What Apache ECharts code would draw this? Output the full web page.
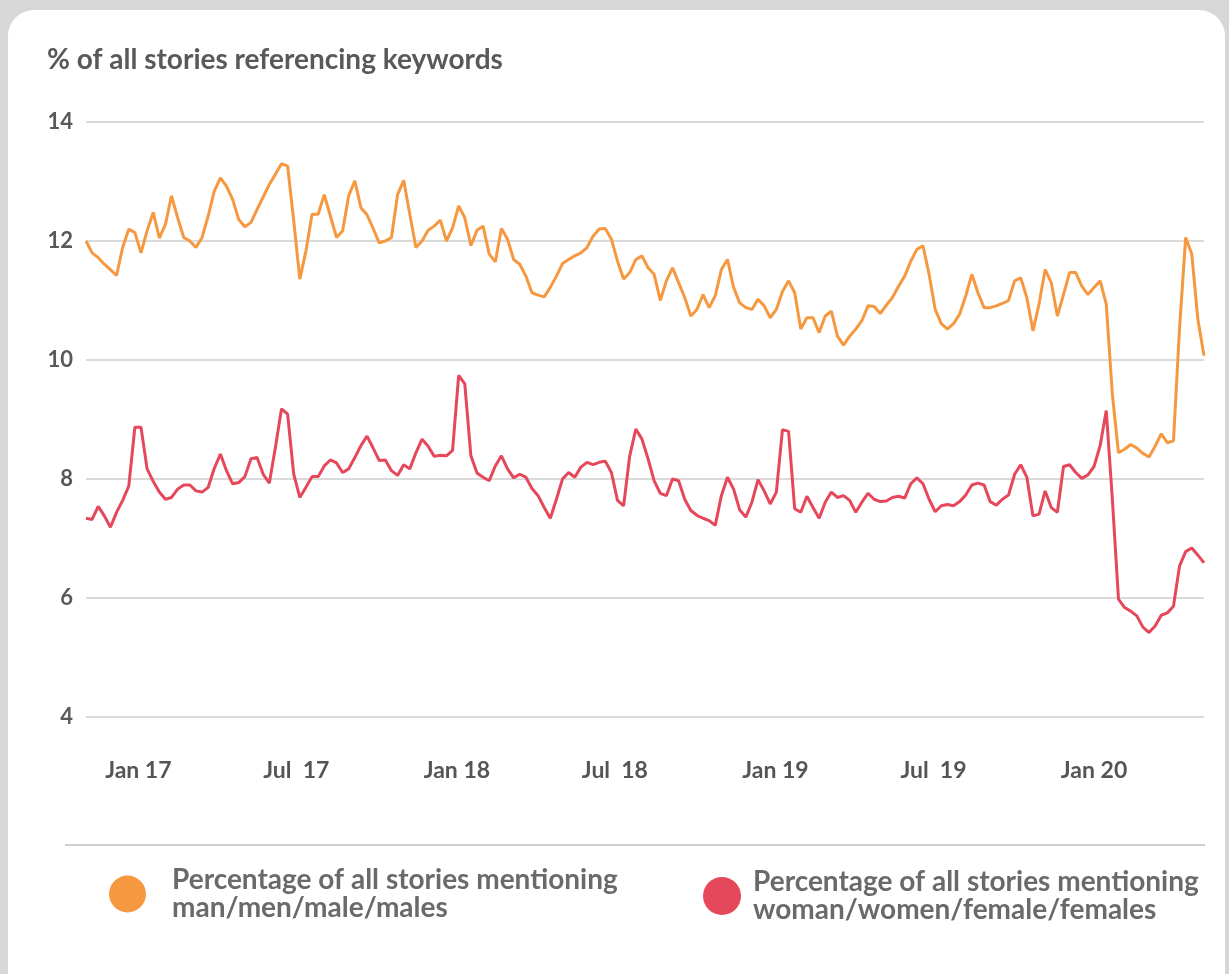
<!DOCTYPE html>
<html>
<head>
<meta charset="utf-8">
<script src="https://cdn.jsdelivr.net/npm/echarts@6/dist/echarts.min.js"></script>
<style>
  html, body { margin: 0; padding: 0; width: 1229px; height: 974px; overflow: hidden; background: #d7d7d7; }
  #card { position: absolute; left: 8px; top: 10px; width: 1217px; height: 990px; background: #ffffff; border-radius: 26px; }
  #chart { position: absolute; left: 0; top: 0; width: 1229px; height: 974px; }
</style>
</head>
<body>
<div id="card"></div>
<div id="chart"></div>
<script>
// Weekly readings, first week starting 2 Nov 2016
const seriesStart = '2016-11-02';
const stepDays = 7;

// % of all stories mentioning man/men/male/males
const menValues = [
  12.00, 11.80, 11.72, 11.61, 11.52, 11.42, 11.89, 12.20, 12.14, 11.80,
  12.17, 12.48, 12.05, 12.28, 12.76, 12.39, 12.06, 12.00, 11.89, 12.06,
  12.42, 12.84, 13.06, 12.92, 12.70, 12.36, 12.24, 12.31, 12.53, 12.74,
  12.95, 13.12, 13.30, 13.26, 12.34, 11.36, 11.83, 12.45, 12.45, 12.78,
  12.42, 12.06, 12.17, 12.76, 13.01, 12.56, 12.44, 12.21, 11.97, 12.00,
  12.06, 12.78, 13.02, 12.45, 11.89, 12.00, 12.18, 12.25, 12.35, 12.00,
  12.22, 12.59, 12.39, 11.92, 12.18, 12.25, 11.78, 11.65, 12.21, 12.03,
  11.69, 11.61, 11.41, 11.13, 11.09, 11.06, 11.22, 11.41, 11.62, 11.69,
  11.75, 11.80, 11.89, 12.08, 12.20, 12.21, 12.03, 11.66, 11.36, 11.47,
  11.69, 11.75, 11.55, 11.44, 11.00, 11.33, 11.55, 11.30, 11.05, 10.74,
  10.85, 11.10, 10.88, 11.08, 11.52, 11.69, 11.22, 10.96, 10.88, 10.85,
  11.02, 10.91, 10.71, 10.85, 11.15, 11.33, 11.13, 10.52, 10.71, 10.71,
  10.46, 10.74, 10.82, 10.40, 10.25, 10.40, 10.52, 10.66, 10.91, 10.90,
  10.78, 10.92, 11.05, 11.24, 11.41, 11.66, 11.86, 11.92, 11.44, 10.85,
  10.61, 10.52, 10.61, 10.77, 11.08, 11.44, 11.13, 10.88, 10.88, 10.91,
  10.95, 11.00, 11.33, 11.38, 11.05, 10.49, 10.94, 11.52, 11.30, 10.74,
  11.10, 11.47, 11.47, 11.24, 11.10, 11.22, 11.33, 10.94, 9.42, 8.44,
  8.50, 8.58, 8.52, 8.43, 8.37, 8.55, 8.76, 8.61, 8.64, 10.54,
  12.06, 11.78, 10.68, 10.07
];

// % of all stories mentioning woman/women/female/females
const womenValues = [
  7.34, 7.32, 7.54, 7.38, 7.19, 7.44, 7.64, 7.88, 8.87, 8.87,
  8.17, 7.96, 7.78, 7.66, 7.69, 7.83, 7.90, 7.90, 7.80, 7.78,
  7.86, 8.18, 8.42, 8.14, 7.92, 7.94, 8.04, 8.34, 8.36, 8.08,
  7.93, 8.53, 9.18, 9.09, 8.08, 7.69, 7.86, 8.04, 8.04, 8.22,
  8.32, 8.27, 8.11, 8.17, 8.36, 8.56, 8.72, 8.52, 8.31, 8.32,
  8.14, 8.06, 8.24, 8.17, 8.44, 8.67, 8.55, 8.38, 8.40, 8.39,
  8.48, 9.74, 9.60, 8.39, 8.10, 8.03, 7.97, 8.22, 8.39, 8.17,
  8.02, 8.08, 8.03, 7.84, 7.72, 7.52, 7.34, 7.66, 8.00, 8.11,
  8.03, 8.20, 8.28, 8.24, 8.28, 8.30, 8.11, 7.64, 7.55, 8.39,
  8.84, 8.67, 8.34, 7.97, 7.76, 7.72, 8.00, 7.97, 7.66, 7.47,
  7.39, 7.34, 7.30, 7.22, 7.72, 8.03, 7.83, 7.48, 7.36, 7.61,
  7.99, 7.80, 7.58, 7.78, 8.83, 8.80, 7.50, 7.44, 7.71, 7.52,
  7.34, 7.61, 7.78, 7.69, 7.72, 7.64, 7.44, 7.61, 7.76, 7.66,
  7.62, 7.63, 7.69, 7.71, 7.68, 7.92, 8.02, 7.92, 7.66, 7.45,
  7.55, 7.57, 7.55, 7.62, 7.73, 7.90, 7.93, 7.90, 7.62, 7.56,
  7.66, 7.73, 8.08, 8.24, 8.03, 7.38, 7.41, 7.80, 7.52, 7.44,
  8.21, 8.24, 8.11, 8.01, 8.07, 8.21, 8.56, 9.15, 7.66, 5.98,
  5.84, 5.78, 5.70, 5.51, 5.42, 5.53, 5.71, 5.75, 5.86, 6.54,
  6.78, 6.84, 6.72, 6.59
];

const tickDates = ['2017-01-01', '2017-07-01', '2018-01-01', '2018-07-01', '2019-01-01', '2019-07-01', '2020-01-01'];
const tickLabels = ['Jan 17', 'Jul  17', 'Jan 18', 'Jul  18', 'Jan 19', 'Jul  19', 'Jan 20'];

const titleText = '% of all stories referencing keywords';
const menName = 'Percentage of all stories mentioning\nman/men/male/males';
const womenName = 'Percentage of all stories mentioning\nwoman/women/female/females';

const DAY = 86400000;
const t0 = Date.parse(seriesStart + 'T00:00:00Z');
const toPairs = vals => vals.map((v, i) => [t0 + i * stepDays * DAY, v]);
const tickTimes = tickDates.map(d => Date.parse(d + 'T00:00:00Z'));
const tEnd = t0 + (menValues.length - 1) * stepDays * DAY;

const FONT = 'Lato, "Open Sans", sans-serif';
const ORANGE = '#F5983F';
const RED = '#E5475B';
const LEGEND_TEXT = { fontFamily: FONT, fontSize: 28, fontWeight: 'bold', color: '#6a6a6a', lineHeight: 28 };

function labelFor(v) {
  let best = 0;
  for (let i = 1; i < tickTimes.length; i++) {
    if (Math.abs(tickTimes[i] - v) < Math.abs(tickTimes[best] - v)) best = i;
  }
  return tickLabels[best];
}

const chart = echarts.init(document.getElementById('chart'), null, { renderer: 'canvas' });
chart.setOption({
  animation: false,
  backgroundColor: 'transparent',
  title: {
    text: titleText,
    left: 42,
    top: 41,
    textStyle: { fontFamily: FONT, fontSize: 28, fontWeight: 'bold', color: '#595959' }
  },
  legend: [
    {
      data: [menName],
      left: 104,
      top: 861,
      icon: 'circle',
      itemWidth: 37,
      itemHeight: 37,
      textStyle: Object.assign({ padding: [0, 0, 0, 21] }, LEGEND_TEXT)
    },
    {
      data: [womenName],
      left: 698,
      top: 863,
      icon: 'circle',
      itemWidth: 38,
      itemHeight: 38,
      textStyle: Object.assign({ padding: [0, 0, 0, 7] }, LEGEND_TEXT)
    }
  ],
  graphic: [
    {
      type: 'line',
      shape: { x1: 65, y1: 845, x2: 1205, y2: 845 },
      style: { stroke: '#d0d0d0', lineWidth: 2 }
    }
  ],
  grid: {
    left: 86,
    right: 25,
    top: 122,
    bottom: 257,
    containLabel: false,
    outerBoundsMode: 'none'
  },
  xAxis: {
    type: 'value',
    min: t0,
    max: tEnd,
    axisLine: { show: false },
    axisTick: { show: false },
    splitLine: { show: false },
    axisLabel: {
      customValues: tickTimes,
      formatter: v => labelFor(v),
      margin: 42,
      fontFamily: FONT,
      fontSize: 23,
      fontWeight: 'bold',
      color: '#555555'
    }
  },
  yAxis: {
    type: 'value',
    min: 4,
    max: 14,
    interval: 2,
    axisLine: { show: false },
    axisTick: { show: false },
    axisLabel: {
      margin: 13,
      fontFamily: FONT,
      fontSize: 22,
      fontWeight: 'bold',
      color: '#595959'
    },
    splitLine: { lineStyle: { color: '#dadada', width: 2 } }
  },
  series: [
    {
      name: menName,
      type: 'line',
      data: toPairs(menValues),
      showSymbol: false,
      color: ORANGE,
      lineStyle: { width: 3, color: ORANGE }
    },
    {
      name: womenName,
      type: 'line',
      data: toPairs(womenValues),
      showSymbol: false,
      color: RED,
      lineStyle: { width: 3, color: RED }
    }
  ]
});
</script>
</body>
</html>
